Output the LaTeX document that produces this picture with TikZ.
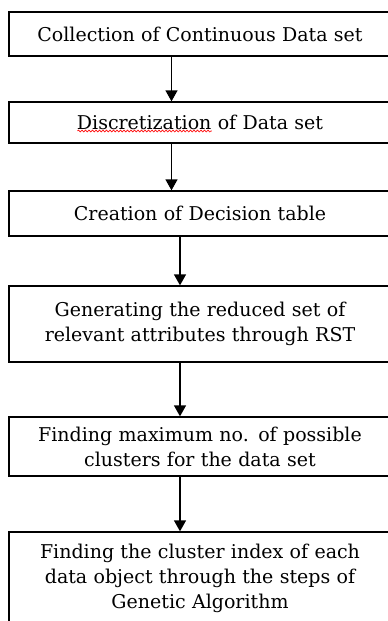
\documentclass[tikz,border=0pt]{standalone}
\usepackage{fontspec}
\setmainfont{DejaVu Serif}
\usetikzlibrary{arrows.meta,decorations.pathmorphing}
\newcommand\stagefont{\fontsize{19}{25}\selectfont}
\begin{document}
\begin{tikzpicture}[x=1pt,y=-1pt,
  stage/.style={draw, line width=1.3pt, minimum width=382pt, text width=370pt,
    align=center, inner sep=0pt, font=\stagefont},
  flow/.style={line width=1.3pt, -{Triangle[width=12pt,length=11pt]}},
  spellmark/.style={red, line width=0.6pt, decorate,
    decoration={snake, amplitude=1pt, segment length=3.5pt}}]
\useasboundingbox (0,0) rectangle (388,621);
\clip (0,0) rectangle (388,621);

% process stages
\node[stage, minimum height=44pt] (b1) at (200,34)    {Collection of Continuous Data set};
\node[stage, minimum height=41pt] (b2) at (200,122.5) {Discretization of Data set};
\node[stage, minimum height=45pt] (b3) at (200,213.5) {Creation of Decision table};
\node[stage, minimum height=76pt] (b4) at (200,324)   {Generating the reduced set of\\relevant attributes through RST};
\node[stage, minimum height=59pt] (b5) at (200,446.5) {Finding maximum no. of possible\\clusters for the data set};
\node[stage, minimum height=93pt] (b6) at (200,578.5) {Finding the cluster index of each\\data object through the steps of\\Genetic Algorithm};

% wavy spell-check mark under the first word of the second stage
\begingroup
\stagefont
\pgfmathsetmacro\wordw{width("Discretization")}
\pgfmathsetmacro\linew{width("Discretization of Data set")}
\xdef\wordw{\wordw}\xdef\linew{\linew}
\endgroup
\draw[spellmark] ([shift={(-\linew/2,8.5)}]b2.center) -- ([shift={(-\linew/2+\wordw,8.5)}]b2.center);

% arrow columns
\coordinate (ca) at (171.5,0);
\coordinate (cb) at (180,0);

\draw[flow] (b1.south -| ca) -- (b2.north -| ca);
\draw[flow] (b2.south -| ca) -- (b3.north -| ca);
\draw[flow] (b3.south -| cb) -- (b4.north -| cb);
\draw[flow] (b4.south -| cb) -- (b5.north -| cb);
\draw[flow] (b5.south -| cb) -- (b6.north -| cb);
\end{tikzpicture}
\end{document}
